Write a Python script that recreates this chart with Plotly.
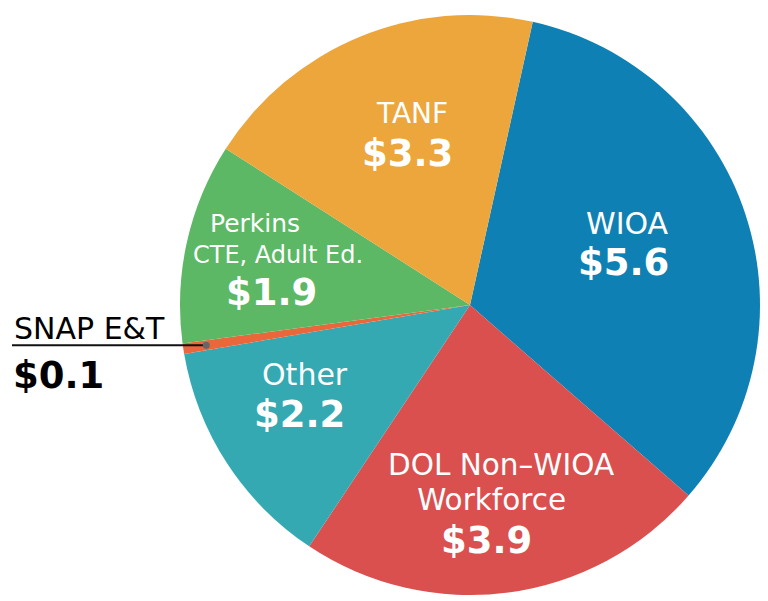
import math
import plotly.graph_objects as go

# ---- data ----
categories = ["WIOA", "DOL Non-WIOA Workforce", "Other", "SNAP E&T", "Perkins CTE, Adult Ed.", "TANF"]
values = [5.6, 3.9, 2.2, 0.1, 1.9, 3.3]
value_labels = ["$5.6", "$3.9", "$2.2", "$0.1", "$1.9", "$3.3"]
name_lines = [["WIOA"], ["DOL Non\u2013WIOA", "Workforce\u00a0\u00a0"], ["Other"], ["SNAP E&T"],
              ["Perkins", "CTE, Adult Ed."], ["TANF"]]
colors = ["#0f80b3", "#d9504f", "#34a9b1", "#e9673b", "#5cb864", "#eca63c"]

W, H = 768, 601
CX, CY, R = 470, 305, 290
ROTATION = 12.5
FONT = "DejaVu Sans"
NAME_SIZE, VALUE_SIZE = 30, 37

def px(x, y):
    return x / W, 1 - y / H

fig = go.Figure(go.Pie(
    labels=categories, values=values, sort=False, direction="clockwise",
    rotation=ROTATION, marker=dict(colors=colors, line=dict(width=0)),
    textinfo="none", hoverinfo="label+value", showlegend=False,
    domain=dict(x=[(CX - R) / W, (CX + R) / W], y=[1 - (CY + R) / H, 1 - (CY - R) / H]),
))

# label layout: name block (x, y centre, size, line spacing), then value centre
label_pos = {
    "WIOA": ((627, 223, 30, None), (623, 262)),
    "DOL Non-WIOA Workforce": ((501, 483, 29.5, 34.5), (486, 540)),
    "Other": ((305, 374, 30, None), (299, 414)),
    "TANF": ((412, 113, 28, None), (407, 153)),
}
annotations = []
for cat, lines, val in zip(categories, name_lines, value_labels):
    if cat not in label_pos:
        continue
    (x, y, s, spacing), vpos = label_pos[cat]
    if spacing:
        base = spacing / 1.3
        text = "<br>".join('<span style="font-size:%spx">%s</span>' % (s, t) for t in lines)
    else:
        base = s
        text = "<br>".join(lines)
    xx, yy = px(x, y)
    annotations.append(dict(x=xx, y=yy, xref="paper", yref="paper", text=text, showarrow=False,
                            xanchor="center", yanchor="middle", align="center",
                            font=dict(family=FONT, size=base, color="white")))
    xx, yy = px(*vpos)
    annotations.append(dict(x=xx, y=yy, xref="paper", yref="paper", text="<b>" + val + "</b>",
                            showarrow=False, xanchor="center", yanchor="middle",
                            font=dict(family=FONT, size=VALUE_SIZE, color="white")))

# Perkins: two name lines of slightly different widths
ip = categories.index("Perkins CTE, Adult Ed.")
for text, (x, y, s) in zip(name_lines[ip], [(255, 223, 25), (278, 255, 24)]):
    xx, yy = px(x, y)
    annotations.append(dict(x=xx, y=yy, xref="paper", yref="paper", text=text, showarrow=False,
                            xanchor="center", yanchor="middle",
                            font=dict(family=FONT, size=s, color="white")))
xx, yy = px(271, 292)
annotations.append(dict(x=xx, y=yy, xref="paper", yref="paper", text="<b>" + value_labels[ip] + "</b>",
                        showarrow=False, xanchor="center", yanchor="middle",
                        font=dict(family=FONT, size=VALUE_SIZE, color="white")))

# SNAP callout: dot at the middle of its slice, computed from the data
idx = categories.index("SNAP E&T")
total = sum(values)
mid = ROTATION + 360 * (sum(values[:idx]) + values[idx] / 2) / total
ang = math.radians(mid)
dx, dy = CX + 0.92 * R * math.sin(ang), CY - 0.92 * R * math.cos(ang)
shapes = [
    dict(type="line", xref="paper", yref="paper", x0=12 / W, x1=dx / W, y0=1 - dy / H, y1=1 - dy / H,
         line=dict(color="#111111", width=2)),
    dict(type="circle", xref="paper", yref="paper", x0=(dx - 3.5) / W, x1=(dx + 3.5) / W,
         y0=1 - (dy + 3.5) / H, y1=1 - (dy - 3.5) / H, fillcolor="#666666", line=dict(width=0)),
]
annotations.append(dict(x=12 / W, y=1 - (dy - 17) / H, xref="paper", yref="paper", text=name_lines[idx][0],
                        showarrow=False, xanchor="left", yanchor="middle",
                        font=dict(family=FONT, size=NAME_SIZE, color="black")))
annotations.append(dict(x=11 / W, y=1 - (dy + 30) / H, xref="paper", yref="paper",
                        text="<b>" + value_labels[idx] + "</b>",
                        showarrow=False, xanchor="left", yanchor="middle",
                        font=dict(family=FONT, size=VALUE_SIZE, color="black")))

fig.update_layout(width=W, height=H, margin=dict(l=0, r=0, t=0, b=0),
                  paper_bgcolor="white", plot_bgcolor="white",
                  annotations=annotations, shapes=shapes)
fig.write_html("out.html")
